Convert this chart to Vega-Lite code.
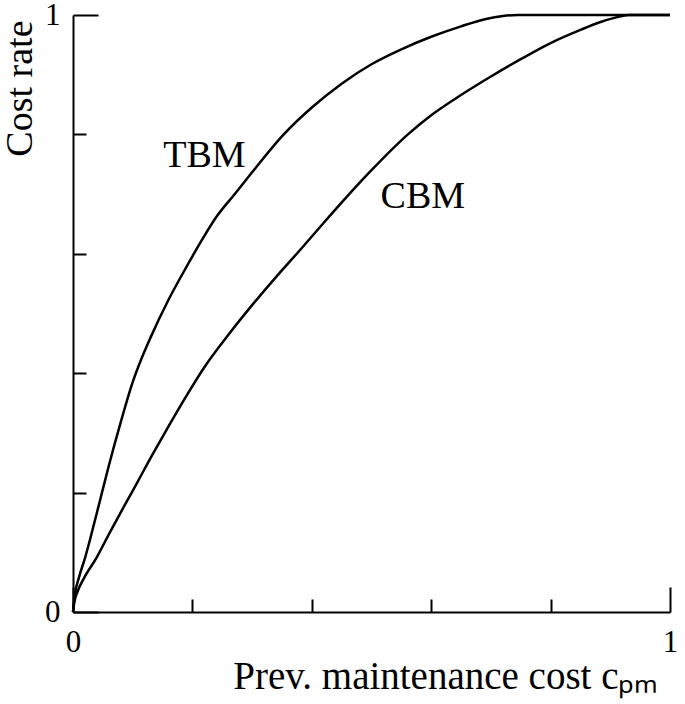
{
  "$schema": "https://vega.github.io/schema/vega-lite/v6.json",
  "width": 597,
  "height": 597,
  "autosize": "none",
  "padding": {"left": 73, "top": 15, "right": 15, "bottom": 92},
  "background": "white",
  "config": {
    "view": {"stroke": null},
    "font": "Liberation Serif",
    "axis": {
      "grid": false,
      "domainColor": "black",
      "domainWidth": 2,
      "tickColor": "black",
      "tickWidth": 2,
      "labelColor": "black",
      "labelFont": "Liberation Serif",
      "labelFontSize": 31,
      "titleFont": "Liberation Serif",
      "titleFontWeight": "normal",
      "titleColor": "black"
    }
  },
  "layer": [
    {
      "data": {
        "values": [
          {"s": "TBM", "x": 0, "y": 0},
          {"s": "TBM", "x": 0.003, "y": 0.028},
          {"s": "TBM", "x": 0.01, "y": 0.058},
          {"s": "TBM", "x": 0.02, "y": 0.09},
          {"s": "TBM", "x": 0.03, "y": 0.127},
          {"s": "TBM", "x": 0.045, "y": 0.186},
          {"s": "TBM", "x": 0.06, "y": 0.245},
          {"s": "TBM", "x": 0.08, "y": 0.318},
          {"s": "TBM", "x": 0.10, "y": 0.385},
          {"s": "TBM", "x": 0.115, "y": 0.425},
          {"s": "TBM", "x": 0.13, "y": 0.46},
          {"s": "TBM", "x": 0.16, "y": 0.523},
          {"s": "TBM", "x": 0.19, "y": 0.578},
          {"s": "TBM", "x": 0.215, "y": 0.6215},
          {"s": "TBM", "x": 0.24, "y": 0.6615},
          {"s": "TBM", "x": 0.27, "y": 0.699},
          {"s": "TBM", "x": 0.30, "y": 0.7365},
          {"s": "TBM", "x": 0.353, "y": 0.80},
          {"s": "TBM", "x": 0.40, "y": 0.845},
          {"s": "TBM", "x": 0.45, "y": 0.885},
          {"s": "TBM", "x": 0.50, "y": 0.9175},
          {"s": "TBM", "x": 0.55, "y": 0.9425},
          {"s": "TBM", "x": 0.60, "y": 0.9635},
          {"s": "TBM", "x": 0.65, "y": 0.981},
          {"s": "TBM", "x": 0.69, "y": 0.993},
          {"s": "TBM", "x": 0.72, "y": 0.9985},
          {"s": "TBM", "x": 0.745, "y": 1.0},
          {"s": "TBM", "x": 1.0, "y": 1.0},
          {"s": "CBM", "x": 0, "y": 0},
          {"s": "CBM", "x": 0.002, "y": 0.015},
          {"s": "CBM", "x": 0.008, "y": 0.035},
          {"s": "CBM", "x": 0.018, "y": 0.056},
          {"s": "CBM", "x": 0.04, "y": 0.092},
          {"s": "CBM", "x": 0.06, "y": 0.13},
          {"s": "CBM", "x": 0.08, "y": 0.167},
          {"s": "CBM", "x": 0.10, "y": 0.203},
          {"s": "CBM", "x": 0.13, "y": 0.258},
          {"s": "CBM", "x": 0.16, "y": 0.311},
          {"s": "CBM", "x": 0.19, "y": 0.362},
          {"s": "CBM", "x": 0.22, "y": 0.41},
          {"s": "CBM", "x": 0.26, "y": 0.464},
          {"s": "CBM", "x": 0.30, "y": 0.514},
          {"s": "CBM", "x": 0.34, "y": 0.561},
          {"s": "CBM", "x": 0.38, "y": 0.606},
          {"s": "CBM", "x": 0.42, "y": 0.652},
          {"s": "CBM", "x": 0.46, "y": 0.697},
          {"s": "CBM", "x": 0.50, "y": 0.74},
          {"s": "CBM", "x": 0.561, "y": 0.80},
          {"s": "CBM", "x": 0.60, "y": 0.832},
          {"s": "CBM", "x": 0.65, "y": 0.866},
          {"s": "CBM", "x": 0.70, "y": 0.897},
          {"s": "CBM", "x": 0.75, "y": 0.926},
          {"s": "CBM", "x": 0.80, "y": 0.953},
          {"s": "CBM", "x": 0.85, "y": 0.975},
          {"s": "CBM", "x": 0.88, "y": 0.987},
          {"s": "CBM", "x": 0.91, "y": 0.996},
          {"s": "CBM", "x": 0.93, "y": 1.0},
          {"s": "CBM", "x": 1.0, "y": 1.0}
        ]
      },
      "mark": {"type": "line", "color": "black", "strokeWidth": 2.5, "interpolate": "monotone"},
      "encoding": {
        "x": {
          "field": "x",
          "type": "quantitative",
          "scale": {"domain": [0, 1], "nice": false},
          "axis": {
            "values": [0, 0.2, 0.4, 0.6, 0.8, 1],
            "tickSize": {"condition": {"test": "datum.value === 0 || datum.value === 1", "value": -25}, "value": -13},
            "labelExpr": "datum.value === 0 || datum.value === 1 ? format(datum.value, 'd') : ''",
            "labelFlush": false,
            "labelPadding": 40,
            "title": "Prev. maintenance cost cₚₘ",
            "titleFontSize": 39,
            "titleAnchor": "end",
            "titleAlign": "right",
            "titleX": 585,
            "titlePadding": 0
          }
        },
        "y": {
          "field": "y",
          "type": "quantitative",
          "scale": {"domain": [0, 1], "nice": false},
          "axis": {
            "values": [0, 0.2, 0.4, 0.6, 0.8, 1],
            "tickSize": {"condition": {"test": "datum.value === 0 || datum.value === 1", "value": -25}, "value": -13},
            "labelExpr": "datum.value === 0 || datum.value === 1 ? format(datum.value, 'd') : ''",
            "labelPadding": 38,
            "title": "Cost rate",
            "titleFontSize": 38,
            "titleAnchor": "end",
            "titleAlign": "right",
            "titleY": 5,
            "titlePadding": 5
          }
        },
        "detail": {"field": "s"}
      }
    },
    {
      "data": {
        "values": [
          {"x": 0.22, "y": 0.764, "t": "TBM"},
          {"x": 0.586, "y": 0.695, "t": "CBM"}
        ]
      },
      "mark": {"type": "text", "font": "Liberation Serif", "fontSize": 38, "baseline": "middle", "color": "black"},
      "encoding": {
        "x": {"field": "x", "type": "quantitative"},
        "y": {"field": "y", "type": "quantitative"},
        "text": {"field": "t"}
      }
    }
  ]
}
